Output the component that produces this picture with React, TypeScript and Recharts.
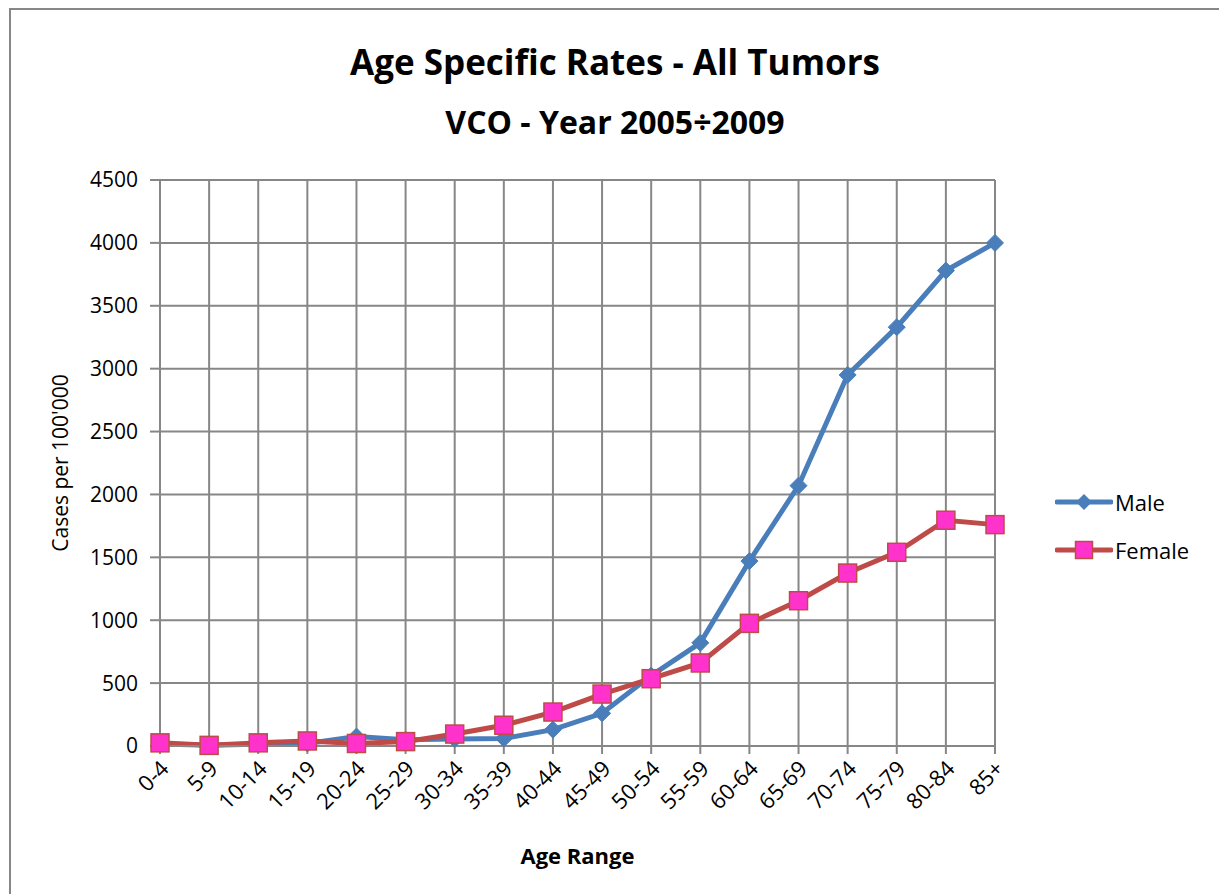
import React from "react";
import { LineChart, Line, XAxis, YAxis, CartesianGrid, Legend } from "recharts";

const categories = ["0-4", "5-9", "10-14", "15-19", "20-24", "25-29", "30-34", "35-39", "40-44", "45-49", "50-54", "55-59", "60-64", "65-69", "70-74", "75-79", "80-84", "85+"];
const maleValues = [15, 5, 15, 20, 75, 50, 55, 60, 130, 260, 560, 820, 1470, 2070, 2950, 3330, 3780, 4000];
const femaleValues = [25, 5, 25, 40, 20, 35, 95, 165, 270, 413, 535, 660, 975, 1155, 1375, 1540, 1795, 1760];
const yTicks = [0, 500, 1000, 1500, 2000, 2500, 3000, 3500, 4000, 4500];

const data = categories.map((c, i) => ({ age: c, Male: maleValues[i], Female: femaleValues[i] }));

const FONT = "'Open Sans', Lato, sans-serif";
const MALE = "#4A7EBB";
const FEMALE = "#BE4B48";
const PINK = "#FF33CC";
const GRID = "#878787";

const Diamond = (props: any) => {
  const { cx, cy } = props;
  if (cx == null || cy == null) return null;
  const r = 8.5;
  return <path d={`M${cx},${cy - r}L${cx + r},${cy}L${cx},${cy + r}L${cx - r},${cy}Z`} fill={MALE} stroke={MALE} strokeWidth={1} />;
};

const Square = (props: any) => {
  const { cx, cy } = props;
  if (cx == null || cy == null) return null;
  const s = 18;
  return <rect x={cx - s / 2} y={cy - s / 2} width={s} height={s} fill={PINK} stroke={FEMALE} strokeWidth={1.5} />;
};

const XTick = (props: any) => {
  const { x, y, payload } = props;
  return (
    <text x={x + 6} y={y + 10} transform={`rotate(-45, ${x + 6}, ${y + 10})`} textAnchor="end" dominantBaseline="middle" fontFamily={FONT} fontSize={22} fill="#000">
      {payload.value}
    </text>
  );
};

const LegendContent = () => (
  <div style={{ fontFamily: FONT, fontSize: 22, color: "#000" }}>
    {[
      { name: "Male", color: MALE, marker: "d" },
      { name: "Female", color: FEMALE, marker: "s" },
    ].map((it) => (
      <div key={it.name} style={{ display: "flex", alignItems: "center", height: 48 }}>
        <svg width={58} height={24}>
          <line x1={2} y1={12} x2={56} y2={12} stroke={it.color} strokeWidth={5} strokeLinecap="round" />
          {it.marker === "d" ? (
            <path d="M29,4L37,12L29,20L21,12Z" fill={MALE} />
          ) : (
            <rect x={20.5} y={3.5} width={17} height={17} fill={PINK} stroke={FEMALE} strokeWidth={1.5} />
          )}
        </svg>
        <span style={{ marginLeft: 2 }}>{it.name}</span>
      </div>
    ))}
  </div>
);

export default function App() {
  return (
    <div style={{ position: "absolute", left: 0, top: 0, width: 1219, height: 894, background: "#fff", overflow: "hidden" }}>
      <div style={{ position: "absolute", left: 9, top: 8, width: 1220, height: 900, border: `2px solid ${GRID}`, boxSizing: "border-box" }} />
      <div style={{ position: "absolute", left: 0, top: 39, width: 1230, textAlign: "center", fontFamily: FONT, fontWeight: 700, fontSize: 35, lineHeight: "46px" }}>
        Age Specific Rates - All Tumors
      </div>
      <div style={{ position: "absolute", left: 0, top: 103, width: 1230, textAlign: "center", fontFamily: FONT, fontWeight: 700, fontSize: 32, lineHeight: "38px" }}>
        VCO - Year 2005÷2009
      </div>
      <div style={{ position: "absolute", left: 0, top: 0 }}>
        <LineChart width={1219} height={894} data={data} margin={{ top: 180, right: 64, bottom: 48, left: 30 }}>
          <CartesianGrid stroke={GRID} strokeWidth={2} vertical={true} horizontal={true} />
          <XAxis
            dataKey="age"
            interval={0}
            height={100}
            tick={<XTick />}
            tickLine={{ stroke: GRID, strokeWidth: 2 }}
            tickSize={8}
            axisLine={{ stroke: GRID, strokeWidth: 2 }}
            label={{
              content: (p: any) => {
                const vb = p.viewBox;
                return (
                  <text x={vb.x + vb.width / 2} y={vb.y + 118} textAnchor="middle" fontFamily={FONT} fontWeight={700} fontSize={22} fill="#000">
                    Age Range
                  </text>
                );
              },
            }}
          />
          <YAxis
            width={130}
            domain={[0, 4500]}
            ticks={yTicks}
            interval={0}
            tick={{ fontFamily: FONT, fontSize: 21, fill: "#000" }}
            tickLine={{ stroke: GRID, strokeWidth: 2 }}
            tickSize={10}
            tickMargin={12}
            axisLine={{ stroke: GRID, strokeWidth: 2 }}
            label={{
              content: (p: any) => {
                const vb = p.viewBox;
                const cx = vb.x + 32;
                const cy = vb.y + vb.height / 2;
                return (
                  <text x={cx} y={cy} transform={`rotate(-90, ${cx}, ${cy})`} textAnchor="middle" dominantBaseline="middle" fontFamily={FONT} fontSize={21} fill="#000">
                    Cases per 100'000
                  </text>
                );
              },
            }}
          />
          <Legend layout="vertical" verticalAlign="top" align="right" content={<LegendContent />} wrapperStyle={{ position: "absolute", left: 1055, top: 478, width: 160, height: 96 }} />
          <Line type="linear" dataKey="Male" stroke={MALE} strokeWidth={5} dot={<Diamond />} activeDot={false} isAnimationActive={false} />
          <Line type="linear" dataKey="Female" stroke={FEMALE} strokeWidth={5} dot={<Square />} activeDot={false} isAnimationActive={false} />
        </LineChart>
      </div>
    </div>
  );
}
